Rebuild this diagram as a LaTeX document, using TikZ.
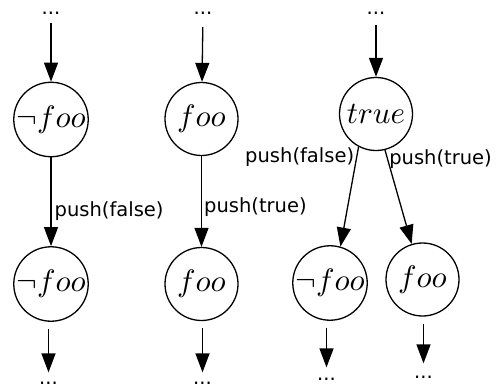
\documentclass[tikz,border=0pt]{standalone}
\usepackage{graphicx}
\usepackage{fontspec}
\newfontfamily\labelfont{DejaVu Sans}
\usetikzlibrary{arrows.meta}
\newcommand{\statetext}[1]{\scalebox{3.1}{$#1$}}

\begin{document}
\begin{tikzpicture}[x=1pt,y=-1pt,
  state/.style={draw, circle, line width=1.3pt, minimum size=73pt, inner sep=0pt},
  arr/.style={line width=1.3pt, -{Triangle[length=19pt,width=14pt]}},
  more/.style={font=\labelfont\fontsize{19.5}{23}\selectfont, inner xsep=0pt, inner ysep=2pt},
  lbl/.style={font=\labelfont\fontsize{19.5}{23}\selectfont, inner sep=0pt}]
\useasboundingbox (0,0) rectangle (498,388);

% states
\node[state] (a1) at (51,119.5) {\statetext{\neg foo}};
\node[state] (a2) at (51,284)   {\statetext{\neg foo}};
\node[state] (b1) at (201.5,119) {\statetext{foo}};
\node[state] (b2) at (201.5,284) {\statetext{foo}};
\node[state] (c0) at (376,114)   {\statetext{true}};
\node[state] (c1) at (330,283)   {\statetext{\neg foo}};
\node[state] (c2) at (422.5,279.5) {\statetext{foo}};

% continuation marks
\node[more, anchor=base] (at)  at (51,14)    {...};
\node[more, anchor=base] (bt)  at (203,14)   {...};
\node[more, anchor=base] (ct)  at (376,14)   {...};
\node[more, anchor=base] (ab)  at (48.5,384) {...};
\node[more, anchor=base] (bb)  at (202.5,384) {...};
\node[more, anchor=base] (cb1) at (326.5,380) {...};
\node[more, anchor=base] (cb2) at (423.5,378) {...};

% incoming edges
\draw[arr, shorten <=7pt]  (at) -- (a1);
\draw[arr, shorten <=11pt] (bt) -- (b1);
\draw[arr, shorten <=9pt]  (ct) -- (c0);

% transitions
\draw[arr] (a1) -- node[lbl, anchor=west, pos=0.6, xshift=3pt] {push(false)} (a2);
\draw[arr] (b1) -- node[lbl, anchor=west, pos=0.56, xshift=2pt] {push(true)} (b2);
\draw[arr] (c0.242) -- node[lbl, anchor=east, pos=0.1, xshift=-2pt] {push(false)} (c1.74);
\draw[arr] (c0.284) -- node[lbl, anchor=west, pos=0.1, xshift=1pt] {push(true)} (c2.107);

% outgoing edges
\draw[arr, shorten <=7pt, shorten >=7pt] (a2.south -| ab) -- (ab);
\draw[arr, shorten <=7pt, shorten >=7pt] (b2.south -| bb) -- (bb);
\draw[arr, shorten <=7pt, shorten >=8pt] (c1.south -| cb1) -- (cb1);
\draw[arr, shorten <=7pt, shorten >=10pt] (c2.south -| cb2) -- (cb2);
\end{tikzpicture}
\end{document}
